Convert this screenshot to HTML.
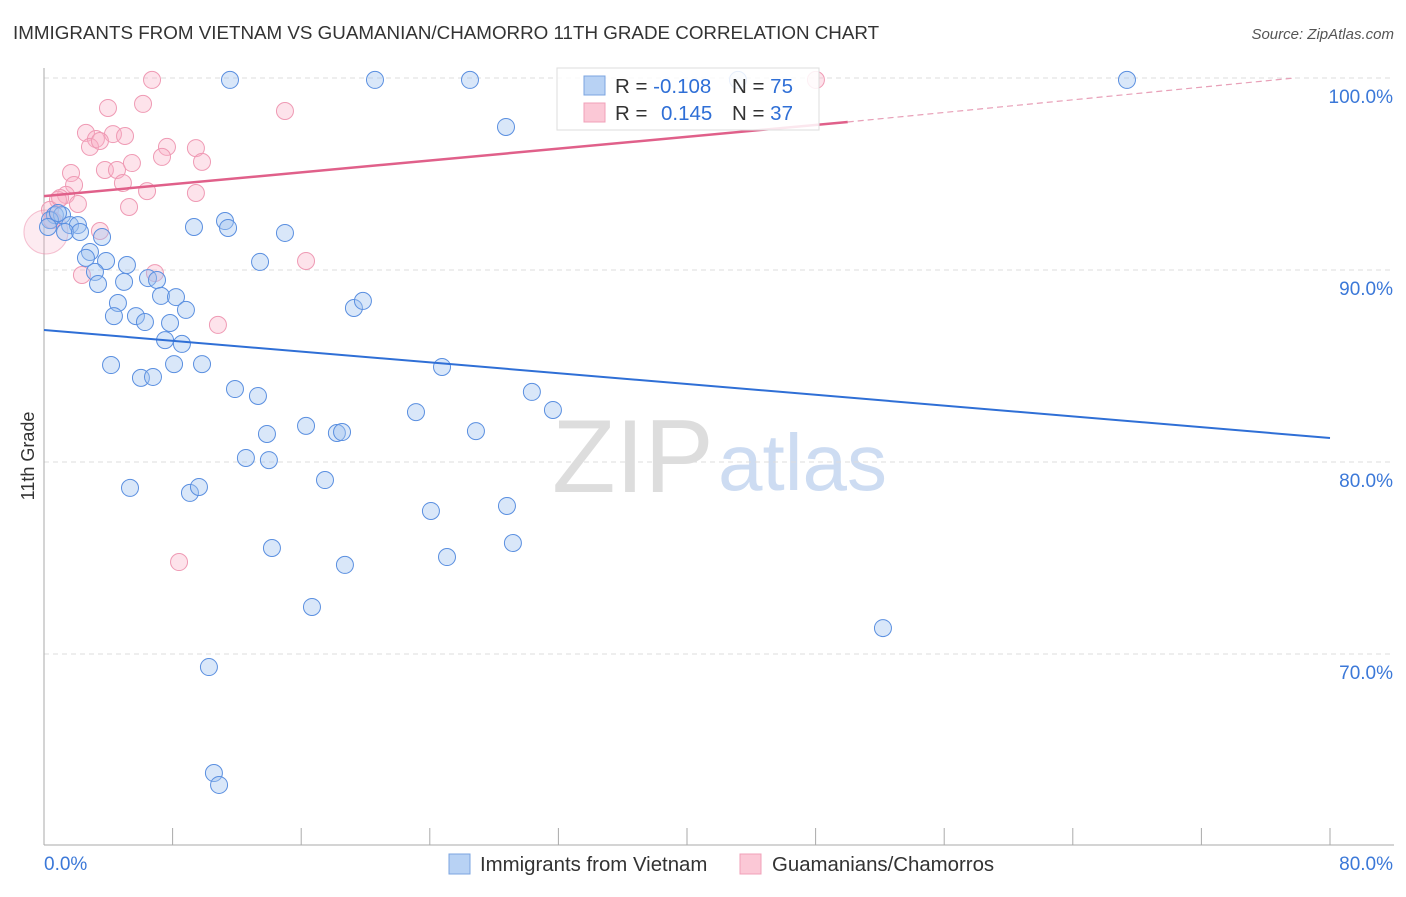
<!DOCTYPE html>
<html><head><meta charset="utf-8"><style>
body{margin:0;background:#fff;font-family:"Liberation Sans",sans-serif;}
svg text{font-family:"Liberation Sans",sans-serif;}
</style></head><body>
<svg id="chart" width="1406" height="892" xmlns="http://www.w3.org/2000/svg">
<text x="13" y="39" font-size="18.8" fill="#333">IMMIGRANTS FROM VIETNAM VS GUAMANIAN/CHAMORRO 11TH GRADE CORRELATION CHART</text>
<text x="1394" y="39" font-size="15" fill="#555" font-style="italic" text-anchor="end">Source: ZipAtlas.com</text>
<g>
<text x="552" y="492" font-size="104" fill="#ddd" font-family="Liberation Serif">ZIP</text>
<text x="718" y="490" font-size="80" fill="#cddcf2">atlas</text>
</g>
<g id="grid"></g>
<g id="axes"></g>
<g id="marks"></g>
<text transform="translate(34,456) rotate(-90)" font-size="18" fill="#333" text-anchor="middle">11th Grade</text>
<g>
<rect x="557" y="68" width="262" height="62" fill="#fff" fill-opacity="0.85" stroke="#ddd"/>
<rect x="584" y="76" width="21" height="19" fill="#b8d2f4" stroke="#7ba4e0"/>
<rect x="584" y="103" width="21" height="19" fill="#fbc8d6" stroke="#f0a0b8"/>
<text x="615" y="93" font-size="20.5" fill="#333">R = <tspan fill="#2f6fd6">-0.108</tspan></text>
<text x="732" y="93" font-size="20.5" fill="#333">N = <tspan fill="#2f6fd6">75</tspan></text>
<text x="615" y="120" font-size="20.5" fill="#333">R = </text>
<text x="661" y="120" font-size="20.5" fill="#2f6fd6">0.145</text>
<text x="732" y="120" font-size="20.5" fill="#333">N = <tspan fill="#2f6fd6">37</tspan></text>
</g>
<g>
<rect x="449" y="854" width="21" height="20" fill="#b8d2f4" stroke="#7ba4e0"/>
<text x="480" y="871" font-size="20.4" fill="#333">Immigrants from Vietnam</text>
<rect x="740" y="854" width="21" height="20" fill="#fbc8d6" stroke="#f0a0b8"/>
<text x="772" y="871" font-size="20.4" fill="#333">Guamanians/Chamorros</text>
</g>
</svg>
<script>
const xTickLabels=["0.0%","80.0%"];
const yTicks=[100,90,80,70];
const blueX=[11.57,20.59,26.50,43.17,67.37,28.74,0.68,1.12,1.62,2.11,1.31,2.24,3.61,9.33,11.26,11.45,14.99,2.86,2.61,3.86,5.16,13.44,3.17,3.36,4.98,6.47,7.03,4.60,7.28,8.21,8.83,4.35,5.72,6.28,7.84,7.53,8.58,19.28,19.84,4.17,6.03,6.78,8.09,9.83,24.76,11.88,13.31,30.35,31.66,23.14,13.87,16.30,18.22,18.54,26.87,12.56,13.99,5.35,9.08,9.64,17.48,24.07,28.80,14.18,18.72,25.07,29.17,16.67,52.19,10.26,10.57,10.89,0.37,0.25,0.87];
const blueY=[99.9,99.9,99.9,99.9,99.9,97.45,92.86,92.86,92.34,92.34,91.98,91.98,91.72,92.24,92.55,92.19,91.93,90.94,90.63,90.47,90.26,90.42,89.90,89.27,89.38,89.58,89.48,88.28,88.65,88.59,87.92,87.60,87.60,87.29,87.24,86.35,86.15,88.02,88.39,85.05,84.38,84.43,85.10,85.10,84.95,83.80,83.44,83.65,82.71,82.60,81.46,81.88,81.51,81.56,81.61,80.21,80.10,78.65,78.39,78.70,79.06,77.45,77.71,75.52,74.64,75.05,75.78,72.45,71.35,69.32,63.80,63.18,92.60,92.24,92.97];
const pinkX=[6.72,48.02,3.98,6.16,14.99,2.61,3.23,4.29,5.04,2.86,3.48,7.65,9.45,1.68,3.79,4.54,5.47,7.34,9.83,1.87,4.91,6.41,9.45,5.29,1.37,2.11,0.87,0.37,0.12,3.48,6.90,2.36,16.30,10.82,8.40,0.50,1.00];
const pinkY=[99.9,99.9,98.44,98.65,98.28,97.14,96.82,97.08,96.98,96.41,96.72,96.41,96.35,95.05,95.21,95.21,95.57,95.89,95.63,94.43,94.53,94.11,94.01,93.28,93.91,93.44,93.65,93.13,91.98,92.03,89.84,89.74,90.47,87.14,74.79,92.60,93.75];
const blueTrend=[86.875,81.25];
const pinkTrend=[93.85,97.71,100.0];
const pinkTrendX=[0,50.0,77.8];
const NS="http://www.w3.org/2000/svg";
const X=v=>44+v/80*1286;
const Y=v=>78+(100-v)*19.2;
function mk(tag,attrs,parent){const e=document.createElementNS(NS,tag);for(const k in attrs)e.setAttribute(k,attrs[k]);parent.appendChild(e);return e;}
const grid=document.getElementById('grid'),axes=document.getElementById('axes'),marks=document.getElementById('marks');
yTicks.forEach(t=>{
 const l=mk('line',{x1:44,x2:1394,y1:Y(t),y2:Y(t),stroke:'#ddd','stroke-dasharray':'5,4'},grid);
 
 
 const tx=mk('text',{x:1393,y:Y(t)+25,'font-size':19,fill:'#3b78d8','text-anchor':'end'},axes);
 tx.textContent=t.toFixed(1)+'%';
 
 
});
const ax=mk('line',{x1:44,x2:44,y1:68,y2:845,stroke:'#aaa'},axes);


const bx=mk('line',{x1:44,x2:1394,y1:845,y2:845,stroke:'#aaa'},axes);


for(let i=0;i<=10;i++){
 const t=mk('line',{x1:X(i*8),x2:X(i*8),y1:828,y2:845,stroke:'#aaa'},axes);
 
 
}
const xl0=mk('text',{x:44,y:870,'font-size':19,fill:'#3b78d8'},axes);
xl0.textContent=xTickLabels[0];


const xl1=mk('text',{x:1393,y:870,'font-size':19,fill:'#3b78d8','text-anchor':'end'},axes);
xl1.textContent=xTickLabels[1];


pinkX.forEach((v,i)=>{
 const big=(i===28);
 const c=mk('circle',{cx:X(v),cy:Y(pinkY[i]),r:big?22:8.5,fill:big?'rgba(248,175,198,0.25)':'rgba(248,175,198,0.35)',stroke:big?'rgba(236,138,168,0.5)':'#ef9ab4','stroke-width':1},marks);
 
 
});
blueX.forEach((v,i)=>{
 const c=mk('circle',{cx:X(v),cy:Y(blueY[i]),r:8.5,fill:'rgba(160,195,240,0.4)',stroke:'#5a8fe0','stroke-width':1},marks);
 
 
});
const bl=mk('line',{x1:X(0),y1:Y(blueTrend[0]),x2:X(80),y2:Y(blueTrend[1]),stroke:'#2f6fd6','stroke-width':2},marks);


const pl=mk('line',{x1:X(pinkTrendX[0]),y1:Y(pinkTrend[0]),x2:X(pinkTrendX[1]),y2:Y(pinkTrend[1]),stroke:'#e0608a','stroke-width':2.5},marks);


const pd=mk('line',{x1:X(pinkTrendX[1]),y1:Y(pinkTrend[1]),x2:X(pinkTrendX[2]),y2:Y(pinkTrend[2]),stroke:'#e8a0b8','stroke-width':1.2,'stroke-dasharray':'6,4'},marks);


</script>
</body></html>
